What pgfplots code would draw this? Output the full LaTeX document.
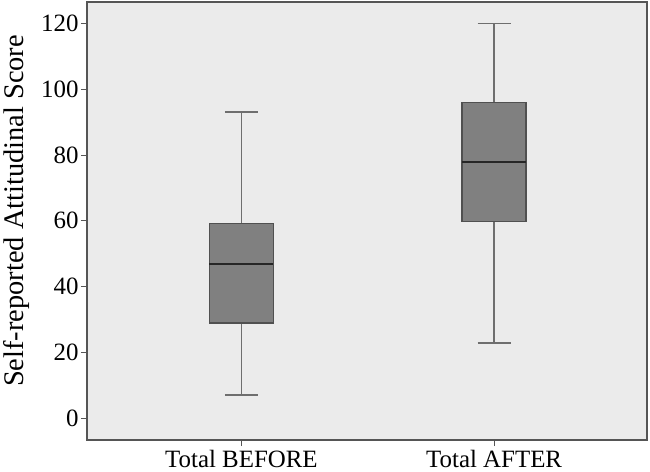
\documentclass[border=0pt]{standalone}
\usepackage{pgfplots}
\pgfplotsset{compat=1.18}
\usepackage{fontspec}
\setmainfont{Liberation Serif}
\definecolor{bgc}{RGB}{235,235,235}
\definecolor{boxc}{RGB}{128,128,128}
\definecolor{boxedge}{RGB}{80,80,80}
\definecolor{whisk}{RGB}{110,110,110}
\definecolor{framec}{RGB}{85,85,85}
\begin{document}
\begin{tikzpicture}
\begin{axis}[
  scale only axis,
  width=560bp, height=438bp,
  xmin=0.389, xmax=2.605,
  ymin=-6.6, ymax=126.5,
  axis background/.style={fill=bgc},
  axis line style={draw=framec, line width=1.6bp},
  xtick={1,2},
  xticklabels={Total BEFORE, Total AFTER},
  ytick={0,20,...,120},
  tick align=outside,
  major tick length=6bp,
  tick style={draw=framec, line width=1bp},
  xtick pos=bottom, ytick pos=left,
  /pgf/number format/assume math mode=true,
  tick label style={font=\fontsize{25}{30}\selectfont},
  yticklabel style={xshift=1bp},
  xticklabel style={yshift=-0.5bp},
  ylabel={Self-reported Attitudinal Score},
  ylabel style={font=\fontsize{28.5}{33}\selectfont, yshift=5bp, xshift=10bp},
]
% whiskers (vertical lines)
\addplot[draw=whisk, line width=1.6bp] coordinates {(1,59.1) (1,93)};
\addplot[draw=whisk, line width=1.6bp] coordinates {(1,28.9) (1,7.1)};
\addplot[draw=whisk, line width=1.6bp] coordinates {(2,96) (2,120)};
\addplot[draw=whisk, line width=1.6bp] coordinates {(2,59.8) (2,22.9)};
% whisker caps
\addplot[draw=whisk, line width=1.6bp] coordinates {(0.935,93) (1.065,93)};
\addplot[draw=whisk, line width=1.6bp] coordinates {(0.935,7.1) (1.065,7.1)};
\addplot[draw=whisk, line width=1.6bp] coordinates {(1.935,120) (2.065,120)};
\addplot[draw=whisk, line width=1.6bp] coordinates {(1.935,22.9) (2.065,22.9)};
% boxes
\addplot[draw=boxedge, fill=boxc, line width=1.4bp] coordinates {(0.8735,28.9) (1.1265,28.9) (1.1265,59.1) (0.8735,59.1)} -- cycle;
\addplot[draw=boxedge, fill=boxc, line width=1.4bp] coordinates {(1.8735,59.8) (2.1265,59.8) (2.1265,96) (1.8735,96)} -- cycle;
% medians
\addplot[draw=black!85, line width=2bp] coordinates {(0.8735,47) (1.1265,47)};
\addplot[draw=black!85, line width=2bp] coordinates {(1.8735,78) (2.1265,78)};
\end{axis}
\pgfresetboundingbox
\path[use as bounding box] ([xshift=-87bp,yshift=-32bp]current axis.south west) rectangle ([xshift=3bp,yshift=2bp]current axis.north east);
\end{tikzpicture}
\end{document}
